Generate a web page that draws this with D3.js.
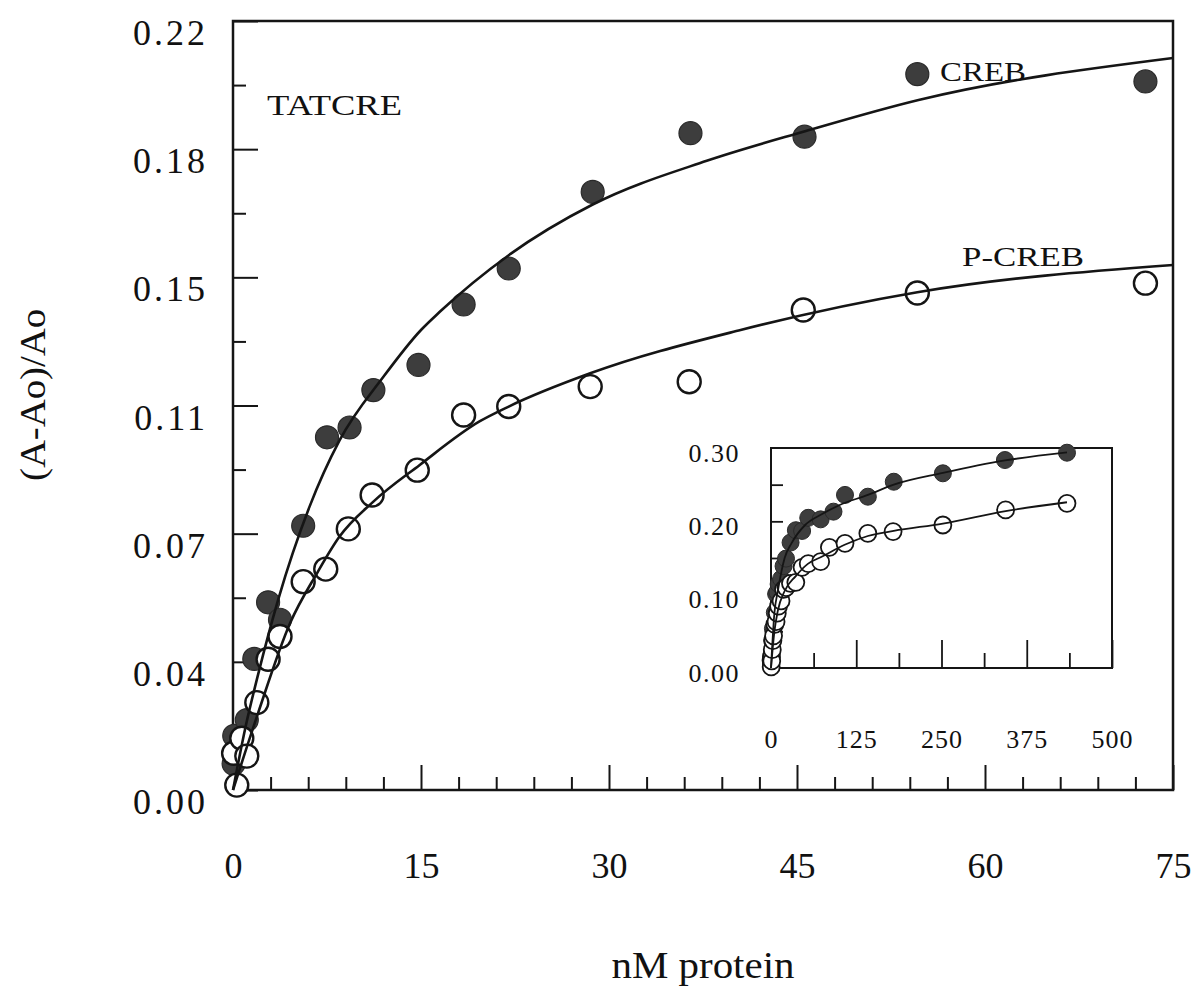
<!DOCTYPE html>
<html>
<head>
<meta charset="utf-8">
<script src="https://cdn.jsdelivr.net/npm/d3@7"></script>
<style>
  html, body { margin: 0; padding: 0; background: #fff; }
  svg { display: block; }
  text { font-family: "Liberation Serif", "Times New Roman", serif; fill: #111; }
</style>
</head>
<body>
<svg id="chart" width="1197" height="989"></svg>
<script>
// ---------------- DATA ----------------
// Main panel: CREB (filled circles)
const CREB_X = [0.05, 0.1, 1.1, 1.7, 2.8, 3.75, 5.6, 7.5, 9.3, 11.2, 14.8, 18.4, 22.0, 28.7, 36.5, 45.6, 54.6, 72.8];
const CREB_Y = [0.0075, 0.0155, 0.020, 0.0375, 0.0537, 0.0487, 0.0756, 0.1009, 0.1037, 0.1144, 0.1216, 0.1389, 0.1492, 0.1711, 0.1879, 0.1869, 0.2048, 0.2027];
// Main panel: P-CREB (open circles)
const PCREB_X = [0.05, 0.3, 0.7, 1.1, 1.9, 2.8, 3.75, 5.6, 7.4, 9.2, 11.1, 14.7, 18.4, 22.0, 28.5, 36.4, 45.5, 54.6, 72.8];
const PCREB_Y = [0.0105, 0.0014, 0.0148, 0.0097, 0.0250, 0.0374, 0.0439, 0.0596, 0.0632, 0.0747, 0.0844, 0.0915, 0.1073, 0.1097, 0.1154, 0.1168, 0.1373, 0.1422, 0.1450];
// Fitted curves
const CREB_FIT_X = [0, 1, 2, 3.6, 6.1, 8.5, 12, 15, 16.5, 22, 28.7, 37.8, 45.5, 54.7, 75];
const CREB_FIT_Y = [0, 0.018, 0.033, 0.0544, 0.081, 0.100, 0.1182, 0.1316, 0.1368, 0.153, 0.1675, 0.180, 0.1883, 0.1974, 0.2094];
const PCREB_FIT_X = [0, 2, 4.55, 6.7, 8.5, 11.2, 14.9, 19.7, 22, 28.5, 40.5, 54.6, 75];
const PCREB_FIT_Y = [0, 0.022, 0.0477, 0.062, 0.0725, 0.0825, 0.093, 0.1055, 0.1097, 0.1192, 0.1316, 0.1424, 0.1502];

// Inset: extra points beyond the main range
const INSET_CREB_X = [91.6, 108.5, 142, 180, 252, 343, 434];
const INSET_CREB_Y = [0.2132, 0.2360, 0.2336, 0.2540, 0.2655, 0.2836, 0.2936];
const INSET_PCREB_X = [85.6, 108.5, 142, 179, 252, 344, 434];
const INSET_PCREB_Y = [0.1646, 0.1700, 0.1837, 0.1860, 0.1950, 0.2155, 0.2246];
const INSET_CREB_FIT_X = [0, 5, 10, 20, 30, 50, 75, 100, 142, 180, 252, 343, 434];
const INSET_CREB_FIT_Y = [0, 0.075, 0.105, 0.150, 0.170, 0.195, 0.210, 0.222, 0.236, 0.250, 0.266, 0.283, 0.294];
const INSET_PCREB_FIT_X = [0, 5, 10, 20, 36, 54, 75, 108, 142, 180, 252, 344, 434];
const INSET_PCREB_FIT_Y = [0, 0.050, 0.078, 0.105, 0.125, 0.142, 0.152, 0.168, 0.180, 0.187, 0.197, 0.214, 0.226];

// Tick values and labels
const X_TICKS = [0, 15, 30, 45, 60, 75];
const X_MINOR = [3, 6, 9, 12, 18, 21, 24, 27, 33, 36, 39, 42, 48, 51, 54, 57, 63, 66, 69, 72];
const Y_TICKS = [0, 0.22/6, 0.44/6, 0.66/6, 0.88/6, 1.10/6, 0.22];
const Y_TICK_LABELS = ["0.00", "0.04", "0.07", "0.11", "0.15", "0.18", "0.22"];
const Y_MINOR = [1, 3, 5, 7, 9, 11].map(i => i * 0.22 / 12);
const INSET_X_TICKS = [0, 125, 250, 375, 500];
const INSET_X_MINOR = [62.5, 187.5, 312.5, 437.5];
const INSET_Y_TICKS = [0, 0.10, 0.20, 0.30];
const INSET_Y_TICK_LABELS = ["0.00", "0.10", "0.20", "0.30"];
const INSET_Y_MINOR = [0.05, 0.10, 0.15, 0.20, 0.25];

// ---------------- DRAWING ----------------
const svg = d3.select("#chart");
const ink = "#151515";
const dotFill = "#3d3d3d";

const x = d3.scaleLinear().domain([0, 75]).range([233, 1173]);
const y = d3.scaleLinear().domain([0, 0.22]).range([790, 21]);

const main = svg.append("g");

// minor ticks
main.append("g").attr("transform", "translate(0,790)")
  .call(d3.axisBottom(x).tickValues(X_MINOR).tickSize(-13).tickFormat(""))
  .call(g => g.select(".domain").remove());
// major ticks + labels
main.append("g").attr("transform", "translate(0,790)")
  .call(d3.axisBottom(x).tickValues(X_TICKS).tickSize(-25).tickPadding(62).tickFormat(d3.format("d")))
  .call(g => g.select(".domain").remove())
  .call(g => g.selectAll("text").attr("font-size", 36).attr("font-family", "Liberation Serif").attr("fill", ink));

main.append("g").attr("transform", "translate(233,0)")
  .call(d3.axisLeft(y).tickValues(Y_MINOR).tickSize(-13).tickFormat(""))
  .call(g => g.select(".domain").remove());
main.append("g").attr("transform", "translate(233,0)")
  .call(d3.axisLeft(y).tickValues(Y_TICKS).tickSize(-25).tickPadding(25)
        .tickFormat((d, i) => Y_TICK_LABELS[i]))
  .call(g => g.select(".domain").remove())
  .call(g => g.selectAll("text").attr("font-size", 36).attr("font-family", "Liberation Serif")
        .attr("letter-spacing", 3).attr("y", 12).attr("fill", ink));

main.selectAll(".tick line").attr("stroke", ink).attr("stroke-width", 2);

// frame
main.append("rect")
  .attr("x", x(0)).attr("y", y(0.22))
  .attr("width", x(75) - x(0)).attr("height", y(0) - y(0.22))
  .attr("fill", "none").attr("stroke", ink).attr("stroke-width", 2.5);

// points
const creb = CREB_X.map((d, i) => [d, CREB_Y[i]]);
const pcreb = PCREB_X.map((d, i) => [d, PCREB_Y[i]]);
main.append("g").selectAll("circle").data(creb).join("circle")
  .attr("cx", d => x(d[0])).attr("cy", d => y(d[1])).attr("r", 11.5)
  .attr("fill", dotFill).attr("stroke", "#2a2a2a").attr("stroke-width", 1.2);
main.append("g").selectAll("circle").data(pcreb).join("circle")
  .attr("cx", d => x(d[0])).attr("cy", d => y(d[1])).attr("r", 11.5)
  .attr("fill", "#fff").attr("stroke", ink).attr("stroke-width", 2.4);

// fitted curves
const line = d3.line().x(d => x(d[0])).y(d => y(d[1])).curve(d3.curveMonotoneX);
main.append("path").datum(CREB_FIT_X.map((d, i) => [d, CREB_FIT_Y[i]]))
  .attr("d", line).attr("fill", "none").attr("stroke", ink).attr("stroke-width", 2.6);
main.append("path").datum(PCREB_FIT_X.map((d, i) => [d, PCREB_FIT_Y[i]]))
  .attr("d", line).attr("fill", "none").attr("stroke", ink).attr("stroke-width", 2.6);

// annotations
main.append("text").attr("x", 267).attr("y", 115).attr("font-size", 30)
  .attr("textLength", 135).attr("lengthAdjust", "spacingAndGlyphs").text("TATCRE");
main.append("text").attr("x", 940).attr("y", 81).attr("font-size", 28)
  .attr("textLength", 86).attr("lengthAdjust", "spacingAndGlyphs").text("CREB");
main.append("text").attr("x", 962).attr("y", 266).attr("font-size", 28)
  .attr("textLength", 122).attr("lengthAdjust", "spacingAndGlyphs").text("P-CREB");

// axis titles
svg.append("text").attr("x", 703).attr("y", 978).attr("font-size", 38)
  .attr("text-anchor", "middle").attr("textLength", 183).attr("lengthAdjust", "spacingAndGlyphs")
  .text("nM protein");
svg.append("text").attr("transform", "translate(45,395) rotate(-90)").attr("font-size", 36)
  .attr("text-anchor", "middle").attr("textLength", 172).attr("lengthAdjust", "spacingAndGlyphs")
  .text("(A-Ao)/Ao");

// ---------------- INSET ----------------
const ix = d3.scaleLinear().domain([0, 500]).range([771, 1112]);
const iy = d3.scaleLinear().domain([0, 0.30]).range([668, 448]);
const inset = svg.append("g");

inset.append("g").attr("transform", "translate(0,668)")
  .call(d3.axisBottom(ix).tickValues(INSET_X_MINOR).tickSize(-15).tickFormat(""))
  .call(g => g.select(".domain").remove());
inset.append("g").attr("transform", "translate(0,668)")
  .call(d3.axisBottom(ix).tickValues(INSET_X_TICKS).tickSize(-28).tickPadding(62).tickFormat(d3.format("d")))
  .call(g => g.select(".domain").remove())
  .call(g => g.selectAll("text").attr("font-size", 26).attr("font-family", "Liberation Serif")
        .attr("letter-spacing", 1).attr("fill", ink));
inset.append("g").attr("transform", "translate(771,0)")
  .call(d3.axisLeft(iy).tickValues(INSET_Y_MINOR).tickSize(-12).tickFormat(""))
  .call(g => g.select(".domain").remove());
inset.append("g").attr("transform", "translate(771,0)")
  .call(d3.axisLeft(iy).tickValues(INSET_Y_TICKS).tickSize(0).tickPadding(31)
        .tickFormat((d, i) => INSET_Y_TICK_LABELS[i]))
  .call(g => g.select(".domain").remove())
  .call(g => g.selectAll("text").attr("font-size", 26).attr("font-family", "Liberation Serif")
        .attr("letter-spacing", 1.5).attr("y", 5).attr("fill", ink));
inset.selectAll(".tick line").attr("stroke", ink).attr("stroke-width", 1.8);

inset.append("rect")
  .attr("x", ix(0)).attr("y", iy(0.30))
  .attr("width", ix(500) - ix(0)).attr("height", iy(0) - iy(0.30))
  .attr("fill", "none").attr("stroke", ink).attr("stroke-width", 2);

const icreb = creb.concat(INSET_CREB_X.map((d, i) => [d, INSET_CREB_Y[i]]));
const ipcreb = pcreb.concat(INSET_PCREB_X.map((d, i) => [d, INSET_PCREB_Y[i]]));
inset.append("g").selectAll("circle").data(icreb).join("circle")
  .attr("cx", d => ix(d[0])).attr("cy", d => iy(d[1])).attr("r", 8.5)
  .attr("fill", dotFill).attr("stroke", "#2a2a2a").attr("stroke-width", 1);
inset.append("g").selectAll("circle").data(ipcreb).join("circle")
  .attr("cx", d => ix(d[0])).attr("cy", d => iy(d[1])).attr("r", 8.5)
  .attr("fill", "#fff").attr("stroke", ink).attr("stroke-width", 1.8);

const iline = d3.line().x(d => ix(d[0])).y(d => iy(d[1])).curve(d3.curveMonotoneX);
inset.append("path").datum(INSET_CREB_FIT_X.map((d, i) => [d, INSET_CREB_FIT_Y[i]]))
  .attr("d", iline).attr("fill", "none").attr("stroke", ink).attr("stroke-width", 1.8);
inset.append("path").datum(INSET_PCREB_FIT_X.map((d, i) => [d, INSET_PCREB_FIT_Y[i]]))
  .attr("d", iline).attr("fill", "none").attr("stroke", ink).attr("stroke-width", 1.8);
</script>
</body>
</html>
